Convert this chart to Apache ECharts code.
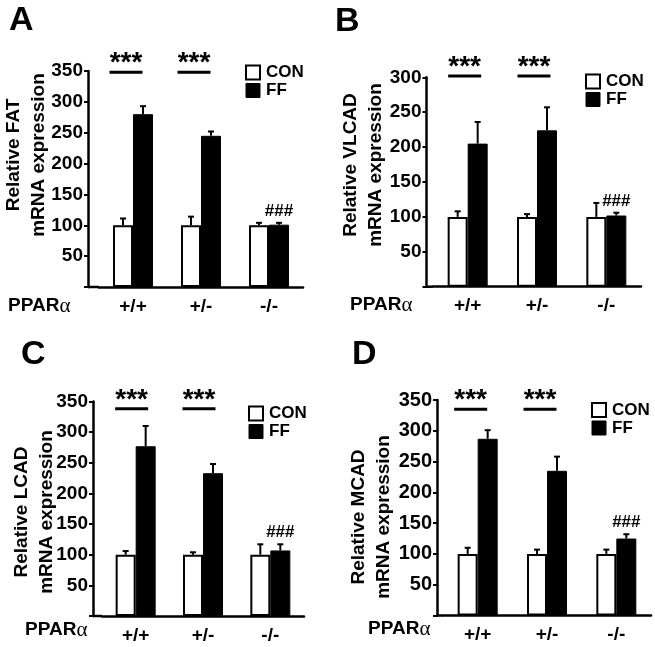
<!DOCTYPE html>
<html><head><meta charset="utf-8">
<script src="https://cdn.jsdelivr.net/npm/echarts@6/dist/echarts.min.js"></script>
<style>html,body{margin:0;padding:0;background:#fff}#c{width:655px;height:647px}</style>
</head><body><div id="c"></div>
<script>
// ---------- data ----------
const categories = ['+/+', '+/-', '-/-'];
const seriesNames = ['CON', 'FF'];
const panelLetters = ['A', 'B', 'C', 'D'];
const yTitles = ['Relative FAT\nmRNA expression', 'Relative VLCAD\nmRNA expression',
                 'Relative LCAD\nmRNA expression', 'Relative MCAD\nmRNA expression'];
const xAxisTitle = 'PPAR';
const xAxisTitleGreek = 'α';
const yMaxes = [350, 300, 350, 350];
const yInterval = 50;

const fatCON = [100, 100, 100];   const fatCONErr = [11, 14, 4];
const fatFF = [280, 245, 101];    const fatFFErr = [13, 7, 3];
const vlcadCON = [100, 100, 100]; const vlcadCONErr = [8, 4, 20];
const vlcadFF = [205, 224, 102];  const vlcadFFErr = [31, 33, 4];
const lcadCON = [100, 100, 100];  const lcadCONErr = [6, 4, 17];
const lcadFF = [277, 233, 107];   const lcadFFErr = [33, 15, 10];
const mcadCON = [100, 100, 100];  const mcadCONErr = [10, 7, 7];
const mcadFF = [287, 235, 125];   const mcadFFErr = [14, 23, 7];

const starGroups = [0, 1];
const starLabel = '***';
const starLineY = [348, 302, 338, 335];
const hashGroups = [2];
const hashLabel = '###';

const panelData = [
  [fatCON, fatCONErr, fatFF, fatFFErr],
  [vlcadCON, vlcadCONErr, vlcadFF, vlcadFFErr],
  [lcadCON, lcadCONErr, lcadFF, lcadFFErr],
  [mcadCON, mcadCONErr, mcadFF, mcadFFErr]
];

// ---------- layout / style ----------
const FONT = '"Liberation Sans", Arial, sans-serif';
const BAR_W = 20;
const layout = [
  {grid: {left: 99, top: 71, width: 204, height: 216}, yOff: 11, letter: [9, 4], legend: [245, 64], yTitle: [26.7, 155], ppar: [8, 306], sigShift: -7, tickFs: 19},
  {grid: {left: 433, top: 77.3, width: 208, height: 209.4}, yOff: 6.5, letter: [335, 5], legend: [585, 73], yTitle: [363, 165], ppar: [350, 305], sigShift: -3, tickFs: 19},
  {grid: {left: 102, top: 401.5, width: 202, height: 214.5}, yOff: 9, letter: [21, 338], legend: [248, 405], yTitle: [34, 512], ppar: [25, 630], sigShift: -4, tickFs: 19},
  {grid: {left: 443, top: 400, width: 208, height: 215.5}, yOff: 6, letter: [352, 338], legend: [591, 401.5], yTitle: [371.5, 517], ppar: [368, 629], sigShift: -7, tickFs: 20}
];

function errRender(dir) {
  return function (params, api) {
    const idx = api.value(0), m = api.value(1), e = api.value(2);
    const base = api.coord([idx, m]);
    const top = api.coord([idx, m + e]);
    const cx = base[0] + dir * BAR_W / 2;
    return {type: 'group', children: [
      {type: 'line', shape: {x1: cx, y1: base[1], x2: cx, y2: top[1]}, style: {stroke: '#000', lineWidth: 2}},
      {type: 'line', shape: {x1: cx - 3, y1: top[1], x2: cx + 3, y2: top[1]}, style: {stroke: '#000', lineWidth: 2}}
    ]};
  };
}
function starRender(shift) {
  return function (params, api) {
    const c = api.coord([api.value(0), api.value(1)]);
    const cx = c[0] + shift;
    return {type: 'group', children: [
      {type: 'line', shape: {x1: cx - 16.5, y1: c[1], x2: cx + 16.5, y2: c[1]}, style: {stroke: '#000', lineWidth: 3}},
      {type: 'text', x: cx, y: c[1] - 9, style: {text: starLabel, font: 'bold 28px ' + FONT, fill: '#000', align: 'center', verticalAlign: 'middle'}}
    ]};
  };
}
function hashRender(params, api) {
  const c = api.coord([api.value(0), api.value(1)]);
  return {type: 'text', x: c[0] + BAR_W / 2, y: c[1] - 3,
    style: {text: hashLabel, font: 'bold 17px ' + FONT, fill: '#000', align: 'center', verticalAlign: 'bottom'}};
}

const option = {
  animation: false,
  backgroundColor: '#fff',
  textStyle: {fontFamily: FONT},
  title: [], grid: [], xAxis: [], yAxis: [], legend: [], series: [], graphic: []
};

layout.forEach((L, p) => {
  const [con, conErr, ff, ffErr] = panelData[p];
  option.title.push({text: panelLetters[p], left: L.letter[0], top: L.letter[1], padding: 0,
    textStyle: {fontSize: 34, fontWeight: 'bold', color: '#000', fontFamily: FONT}});
  option.grid.push(Object.assign({outerBoundsMode: 'none', containLabel: false}, L.grid));
  option.xAxis.push({type: 'category', gridIndex: p, data: categories, boundaryGap: true,
    axisLine: {lineStyle: {color: '#000', width: 2.5}}, axisTick: {show: false},
    axisLabel: {color: '#000', fontSize: 19, fontWeight: 'bold', margin: 10, fontFamily: FONT},
    splitLine: {show: false}});
  option.yAxis.push({type: 'value', gridIndex: p, min: 0, max: yMaxes[p], interval: yInterval, offset: L.yOff,
    axisLine: {show: true, lineStyle: {color: '#000', width: 2.5}},
    axisTick: {show: true, length: 4, lineStyle: {color: '#000', width: 2}},
    axisLabel: {color: '#000', fontSize: L.tickFs, fontWeight: 'bold', margin: 5, fontFamily: FONT,
      formatter: v => (v === 0 ? '' : String(v))},
    splitLine: {show: false}});
  option.legend.push({orient: 'vertical', left: L.legend[0], top: L.legend[1], padding: 0,
    itemWidth: 14, itemHeight: 14, itemGap: 1, icon: 'rect',
    textStyle: {fontSize: 17, fontWeight: 'bold', color: '#000', fontFamily: FONT, padding: [0, 0, 0, 1]},
    data: [
      {name: 'CON', itemStyle: {color: '#fff', borderColor: '#000', borderWidth: 2}},
      {name: 'FF', itemStyle: {color: '#000', borderColor: '#000', borderWidth: 1}}
    ]});
  option.series.push({name: seriesNames[0], type: 'bar', xAxisIndex: p, yAxisIndex: p, data: con,
    barWidth: BAR_W, barGap: '0%', itemStyle: {color: '#fff', borderColor: '#000', borderWidth: 2}, z: 2});
  option.series.push({name: seriesNames[1], type: 'bar', xAxisIndex: p, yAxisIndex: p, data: ff,
    barWidth: BAR_W, barGap: '0%', itemStyle: {color: '#000', borderColor: '#000', borderWidth: 1}, z: 2});
  option.series.push({type: 'custom', xAxisIndex: p, yAxisIndex: p, z: 3, clip: false,
    data: con.map((v, i) => [i, v, conErr[i]]), renderItem: errRender(-1)});
  option.series.push({type: 'custom', xAxisIndex: p, yAxisIndex: p, z: 3, clip: false,
    data: ff.map((v, i) => [i, v, ffErr[i]]), renderItem: errRender(1)});
  option.series.push({type: 'custom', xAxisIndex: p, yAxisIndex: p, z: 3, clip: false,
    data: starGroups.map(g => [g, starLineY[p]]), renderItem: starRender(L.sigShift)});
  option.series.push({type: 'custom', xAxisIndex: p, yAxisIndex: p, z: 3, clip: false,
    data: hashGroups.map(g => [g, ff[g] + ffErr[g]]), renderItem: hashRender});
  // x-axis line extension to the offset y-axis
  const yb = L.grid.top + L.grid.height;
  option.graphic.push({type: 'line', shape: {x1: L.grid.left - L.yOff, y1: yb, x2: L.grid.left, y2: yb},
    style: {stroke: '#000', lineWidth: 2.5}, z: 10});
  option.graphic.push({type: 'text', x: L.yTitle[0], y: L.yTitle[1], rotation: Math.PI / 2,
    style: {text: yTitles[p], font: 'bold 19px ' + FONT, fill: '#000', textAlign: 'center', textVerticalAlign: 'middle', lineHeight: 25}});
  option.graphic.push({type: 'text', x: L.ppar[0], y: L.ppar[1],
    style: {text: '{b|' + xAxisTitle + '}{a|' + xAxisTitleGreek + '}', textAlign: 'left', textVerticalAlign: 'middle',
      rich: {b: {fontSize: 19, fontWeight: 'bold', fontFamily: FONT, fill: '#000', color: '#000'},
             a: {fontSize: 21, fontFamily: '"Liberation Serif", serif', fill: '#000', color: '#000'}}}});
});

const chart = echarts.init(document.getElementById('c'), null, {renderer: 'canvas'});
chart.setOption(option);
</script>
</body></html>
